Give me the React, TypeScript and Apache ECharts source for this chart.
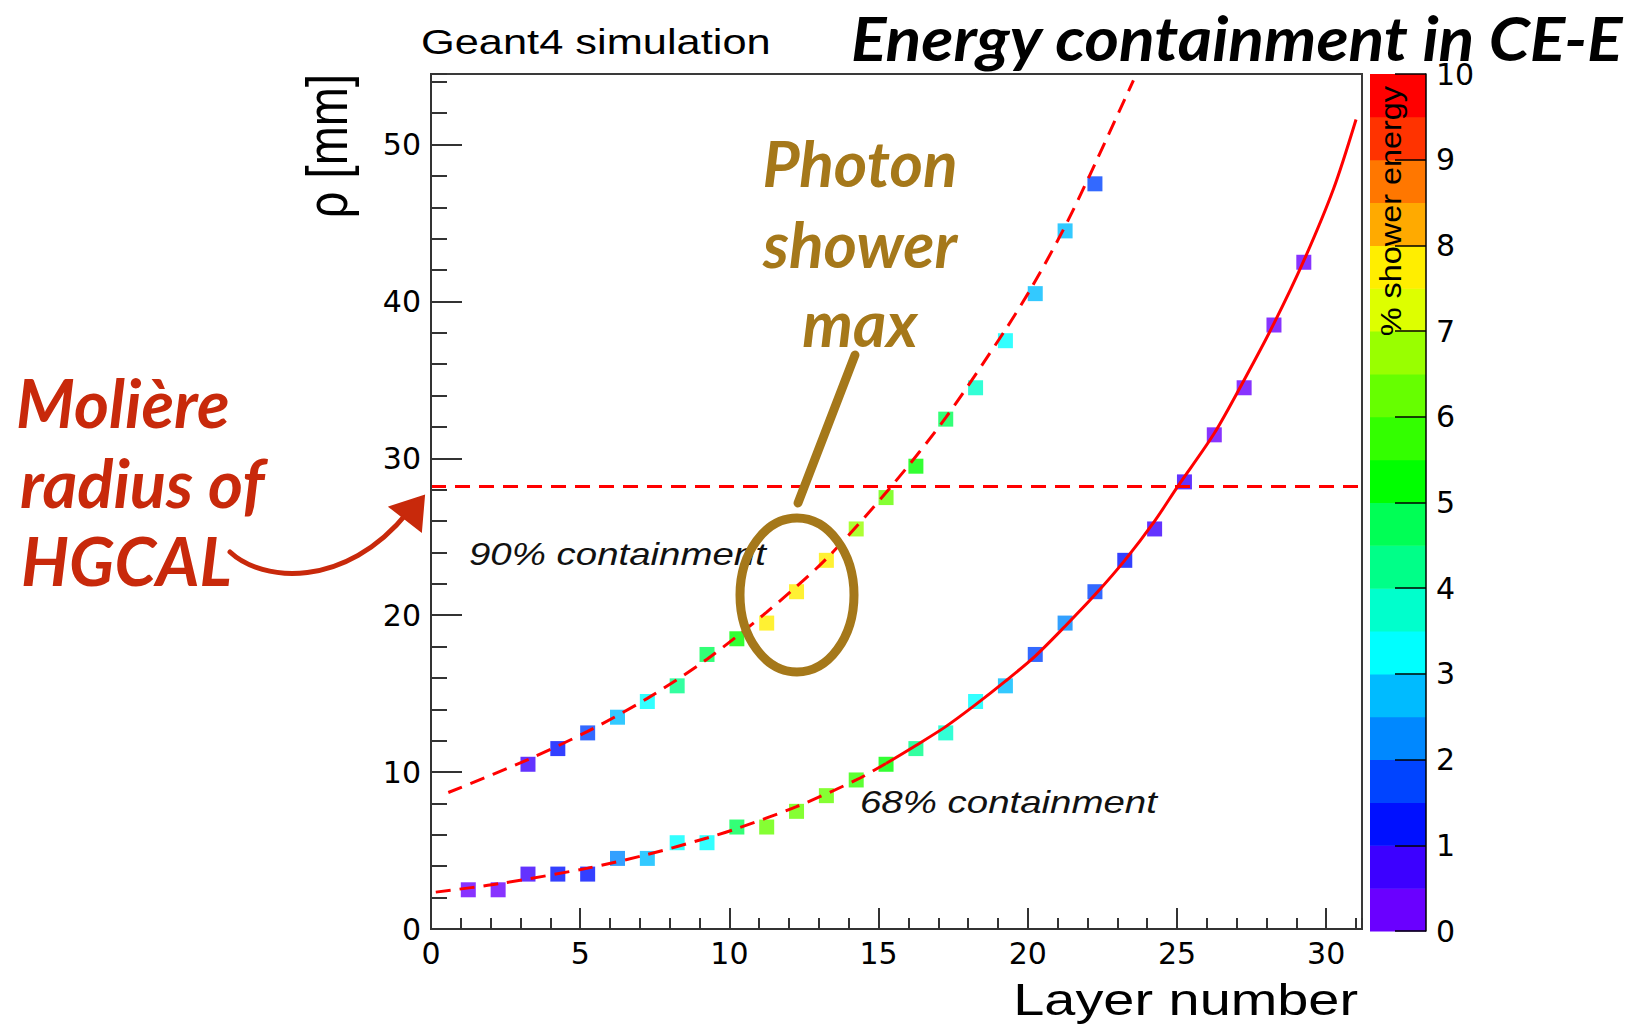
import React, { useEffect, useRef } from "react";
import * as echarts from "echarts";

// ---------- data ----------
// 68% containment radius per layer (x positions)
const layerPos68 = [1.25, 2.25, 3.25, 4.25, 5.25, 6.25, 7.25, 8.25, 9.25, 10.25, 11.25, 12.25, 13.25, 14.25, 15.25, 16.25, 17.25, 18.25, 19.25, 20.25, 21.25, 22.25, 23.25, 24.25, 25.25, 26.25, 27.25, 28.25, 29.25];
const rho68 = [2.5, 2.5, 3.5, 3.5, 3.5, 4.5, 4.5, 5.5, 5.5, 6.5, 6.5, 7.5, 8.5, 9.5, 10.5, 11.5, 12.5, 14.5, 15.5, 17.5, 19.5, 21.5, 23.5, 25.5, 28.5, 31.5, 34.5, 38.5, 42.5];
const energy68 = [0.25, 0.25, 0.75, 1.25, 1.25, 2.25, 2.75, 3.25, 3.25, 4.75, 6.25, 6.25, 6.25, 5.75, 5.25, 4.25, 3.75, 3.25, 2.75, 1.75, 2.25, 1.75, 1.25, 0.75, 0.75, 0.25, 0.25, 0.25, 0.25];

// 90% containment radius per layer
const layerPos90 = [3.25, 4.25, 5.25, 6.25, 7.25, 8.25, 9.25, 10.25, 11.25, 12.25, 13.25, 14.25, 15.25, 16.25, 17.25, 18.25, 19.25, 20.25, 21.25, 22.25];
const rho90 = [10.5, 11.5, 12.5, 13.5, 14.5, 15.5, 17.5, 18.5, 19.5, 21.5, 23.5, 25.5, 27.5, 29.5, 32.5, 34.5, 37.5, 40.5, 44.5, 47.5];
const energy90 = [0.75, 1.25, 1.75, 2.75, 3.25, 4.25, 4.75, 5.25, 7.75, 7.75, 7.75, 6.75, 6.25, 5.25, 4.75, 3.75, 3.25, 2.75, 2.75, 1.75];

// fitted curves
const fit90X = [0.58, 3.25, 5.25, 7.25, 9.25, 11.25, 13.25, 15.42, 17.25, 19.25, 20.16, 21.17, 22.04, 23.54];
const fit90Y = [8.7, 10.8, 12.6, 14.7, 17.2, 20.2, 23.6, 28.2, 32.6, 38.2, 41.0, 44.5, 47.9, 54.1];
const fit68DashX = [0.16, 2.25, 5.25, 7.25, 9.25, 10.25, 12.25, 14.25, 15.25];
const fit68DashY = [2.35, 2.88, 3.88, 4.75, 5.8, 6.4, 7.8, 9.5, 10.55];
const fit68SolidX = [15.25, 16.25, 17.25, 18.25, 19.25, 20.25, 21.25, 22.25, 23.25, 24.25, 25.02, 26.25, 27.25, 28.25, 29.25, 30.25, 31.0];
const fit68SolidY = [10.55, 11.7, 12.9, 14.3, 15.8, 17.4, 19.3, 21.3, 23.5, 26.0, 28.2, 31.6, 35.0, 38.6, 42.6, 47.2, 51.6];

const moliereRadius = 28.2;

// colour scale (% shower energy)
const energyEdges = [0, 0.5, 1, 1.5, 2, 2.5, 3, 3.5, 4, 4.5, 5, 5.5, 6, 6.5, 7, 7.5, 8, 8.5, 9, 9.5, 10];
const paletteColors = [
  "#6a00ff", "#3c00ff", "#0010ff", "#0044ff", "#0088ff", "#00bbff", "#00ffff", "#00ffcc", "#00ff88", "#00ff55",
  "#00ff00", "#33ff00", "#66ff00", "#99ff00", "#ddff00", "#ffee00", "#ffaa00", "#ff7700", "#ff3300", "#ff0000",
];

const xTicks = { min: 0, max: 31.2, major: 5, minor: 1 };
const yTicks = { min: 0, max: 54.5, major: 10, minor: 2 };
const zTicks = { min: 0, max: 10, major: 1 };

const GOLD = "#a5781a";
const RUST = "#c8290b";

export default function App() {
  const ref = useRef<HTMLDivElement>(null);

  useEffect(() => {
    if (!ref.current) return;
    const chart = echarts.init(ref.current, null, { renderer: "svg" });

    const pts68 = layerPos68.map((x, i) => [x, rho68[i], energy68[i]]);
    const pts90 = layerPos90.map((x, i) => [x, rho90[i], energy90[i]]);
    const pieces = paletteColors.map((color, i) => ({ gte: energyEdges[i], lt: energyEdges[i + 1], color }));
    const barData = paletteColors.map((_, i) => [energyEdges[i], energyEdges[i + 1], (energyEdges[i] + energyEdges[i + 1]) / 2]);

    const axisColor = "#333";
    const labelFont = { fontFamily: "DejaVu Sans", fontSize: 30, color: "#000" };
    const redDash = { color: "#ff0000", width: 3, type: [15, 9] as any };
    const lato = { fontFamily: "Lato", fontWeight: "bold", fontStyle: "italic" };

    const option: any = {
      animation: false,
      backgroundColor: "#ffffff",
      grid: [
        { left: 431, top: 74, width: 931, height: 855, show: true, borderColor: "#3a3a3a", borderWidth: 2, backgroundColor: "transparent" },
        { left: 1370, top: 74, width: 56, height: 857 },
      ],
      xAxis: [
        {
          gridIndex: 0, type: "value", position: "bottom", offset: 0, min: xTicks.min, max: xTicks.max, interval: xTicks.major, z: 5,
          axisLine: { show: true, onZero: false, lineStyle: { color: axisColor, width: 2 } },
          axisTick: { show: true, inside: true, length: 21, lineStyle: { color: axisColor, width: 2 } },
          axisLabel: { ...labelFont, margin: 9, showMaxLabel: false },
          splitLine: { show: false },
        },
        {
          gridIndex: 0, type: "value", position: "bottom", offset: 0, min: xTicks.min, max: xTicks.max, interval: xTicks.minor, z: 5,
          axisLine: { show: false, onZero: false },
          axisTick: { show: true, inside: true, length: 11, lineStyle: { color: axisColor, width: 2 } },
          axisLabel: { show: false },
          splitLine: { show: false },
        },
        { gridIndex: 1, type: "value", min: 0, max: 1, show: false },
      ],
      yAxis: [
        {
          gridIndex: 0, type: "value", position: "left", offset: 0, min: yTicks.min, max: yTicks.max, interval: yTicks.major, z: 5,
          axisLine: { show: true, onZero: false, lineStyle: { color: axisColor, width: 2 } },
          axisTick: { show: true, inside: true, length: 31, lineStyle: { color: axisColor, width: 2 } },
          axisLabel: { ...labelFont, margin: 10, showMaxLabel: false },
          splitLine: { show: false },
        },
        {
          gridIndex: 0, type: "value", position: "left", offset: 0, min: yTicks.min, max: yTicks.max, interval: yTicks.minor, z: 5,
          axisLine: { show: false, onZero: false },
          axisTick: { show: true, inside: true, length: 16, lineStyle: { color: axisColor, width: 2 } },
          axisLabel: { show: false },
          splitLine: { show: false },
        },
        {
          gridIndex: 1, type: "value", position: "right", offset: 0, min: zTicks.min, max: zTicks.max, interval: zTicks.major, z: 20,
          axisLine: { show: true, onZero: false, lineStyle: { color: "#000", width: 1.5 } },
          axisTick: { show: true, inside: true, length: 31, lineStyle: { color: "#000", width: 1.5 } },
          axisLabel: { ...labelFont, margin: 10 },
          splitLine: { show: false },
        },
      ],
      visualMap: {
        type: "piecewise", show: false, dimension: 2, seriesIndex: [0, 1, 5], pieces,
      },
      series: [
        { name: "68% points", type: "scatter", xAxisIndex: 0, yAxisIndex: 0, symbol: "rect", symbolSize: 15, data: pts68, z: 2 },
        { name: "90% points", type: "scatter", xAxisIndex: 0, yAxisIndex: 0, symbol: "rect", symbolSize: 15, data: pts90, z: 2 },
        {
          name: "90% fit", type: "line", xAxisIndex: 0, yAxisIndex: 0, smooth: 0.3, symbol: "none", z: 3,
          lineStyle: redDash, data: fit90X.map((x, i) => [x, fit90Y[i]]),
        },
        {
          name: "68% fit (extrapolated)", type: "line", xAxisIndex: 0, yAxisIndex: 0, smooth: 0.3, symbol: "none", z: 3,
          lineStyle: redDash, data: fit68DashX.map((x, i) => [x, fit68DashY[i]]),
        },
        {
          name: "68% fit", type: "line", xAxisIndex: 0, yAxisIndex: 0, smooth: 0.3, symbol: "none", z: 3,
          lineStyle: { color: "#ff0000", width: 3 }, data: fit68SolidX.map((x, i) => [x, fit68SolidY[i]]),
          markLine: {
            silent: true, symbol: "none", label: { show: false },
            lineStyle: redDash, data: [{ yAxis: moliereRadius }],
          },
        },
        {
          name: "colour scale", type: "custom", xAxisIndex: 2, yAxisIndex: 2, z: 0,
          encode: { y: [0, 1] },
          data: barData,
          renderItem: (params: any, api: any) => {
            const lo = api.value(0);
            const hi = api.value(1);
            const p0 = api.coord([0, hi]);
            const p1 = api.coord([1, lo]);
            return {
              type: "rect",
              shape: { x: p0[0], y: p0[1], width: p1[0] - p0[0], height: p1[1] - p0[1] + 0.5 },
              style: { fill: api.visual("color") },
            };
          },
        },
      ],
      graphic: {
        elements: [
          {
            type: "text", x: 851, y: 37, scaleX: 1.065, z: 100,
            style: { text: "Energy containment in CE-E", ...lato, fontSize: 62, fill: "#000", align: "left", verticalAlign: "middle" },
          },
          {
            type: "text", x: 421, y: 41.5, scaleX: 1.24, z: 100,
            style: { text: "Geant4 simulation", fontFamily: "Liberation Sans", fontSize: 35, fill: "#000", align: "left", verticalAlign: "middle" },
          },
          {
            type: "text", x: 327, y: 74, rotation: Math.PI / 2, scaleY: 1.24, z: 100,
            style: { text: "ρ [mm]", fontFamily: "Liberation Sans", fontSize: 47, fill: "#000", align: "right", verticalAlign: "middle" },
          },
          {
            type: "text", x: 1358, y: 999.7, scaleX: 1.27, z: 100,
            style: { text: "Layer number", fontFamily: "Liberation Sans", fontSize: 44, fill: "#000", align: "right", verticalAlign: "middle" },
          },
          {
            type: "text", x: 1391, y: 86, rotation: Math.PI / 2, scaleX: 1.08, z: 100,
            style: { text: "% shower energy", fontFamily: "Liberation Sans", fontSize: 30, fill: "#000", align: "right", verticalAlign: "middle" },
          },
          {
            type: "text", x: 469, y: 554.2, scaleX: 1.24, z: 100,
            style: { text: "90% containment", fontFamily: "Liberation Sans", fontStyle: "italic", fontSize: 31, fill: "#111", align: "left", verticalAlign: "middle" },
          },
          {
            type: "text", x: 860, y: 802.2, scaleX: 1.24, z: 100,
            style: { text: "68% containment", fontFamily: "Liberation Sans", fontStyle: "italic", fontSize: 31, fill: "#111", align: "left", verticalAlign: "middle" },
          },
          // Photon shower max annotation
          { type: "text", x: 860, y: 162.2, z: 100, style: { text: "Photon", ...lato, fontSize: 64, fill: GOLD, align: "center", verticalAlign: "middle" } },
          { type: "text", x: 860, y: 243.2, z: 100, style: { text: "shower", ...lato, fontSize: 64, fill: GOLD, align: "center", verticalAlign: "middle" } },
          { type: "text", x: 860, y: 322.2, z: 100, style: { text: "max", ...lato, fontSize: 64, fill: GOLD, align: "center", verticalAlign: "middle" } },
          { type: "line", z: 100, shape: { x1: 855, y1: 355, x2: 798, y2: 503 }, style: { stroke: GOLD, lineWidth: 9, lineCap: "round" } },
          { type: "ellipse", z: 100, shape: { cx: 797, cy: 595, rx: 57, ry: 77 }, style: { fill: "none", stroke: GOLD, lineWidth: 9 } },
          // Molière radius annotation
          { type: "text", x: 16, y: 401.5, z: 100, style: { text: "Molière", ...lato, fontSize: 67, fill: RUST, align: "left", verticalAlign: "middle" } },
          { type: "text", x: 20, y: 481.5, z: 100, style: { text: "radius of", ...lato, fontSize: 67, fill: RUST, align: "left", verticalAlign: "middle" } },
          { type: "text", x: 21, y: 559.5, z: 100, style: { text: "HGCAL", ...lato, fontSize: 67, fill: RUST, align: "left", verticalAlign: "middle" } },
          {
            type: "bezierCurve", z: 100,
            shape: { x1: 230, y1: 552, cpx1: 262, cpy1: 582, cpx2: 345, cpy2: 590, x2: 408, y2: 512 },
            style: { stroke: RUST, lineWidth: 5, fill: "none", lineCap: "round" },
          },
          {
            type: "polygon", z: 100,
            shape: { points: [[390, 507], [424, 496], [421, 531]] },
            style: { fill: RUST, stroke: RUST, lineWidth: 2 },
          },
        ],
      },
    };

    chart.setOption(option);
    return () => chart.dispose();
  }, []);

  return (
    <div
      ref={ref}
      style={{ position: "absolute", left: 0, top: 0, width: 1649, height: 1025, background: "#fff" }}
    />
  );
}
